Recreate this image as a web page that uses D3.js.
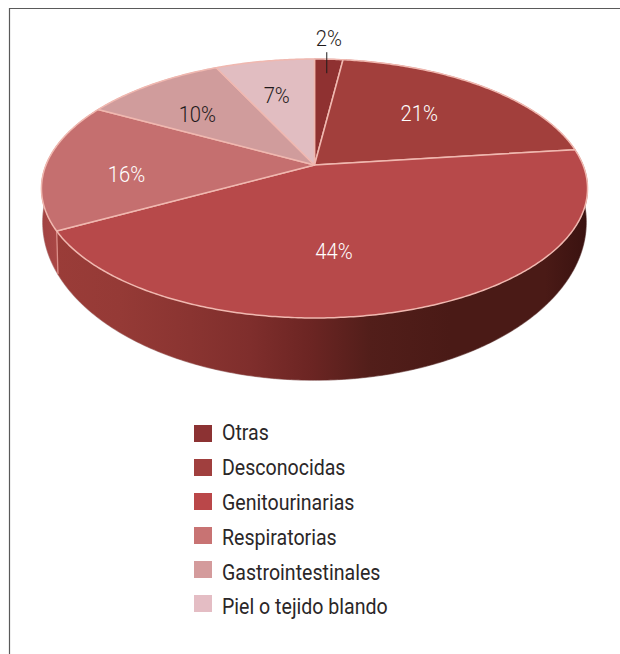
<!DOCTYPE html>
<html lang="es">
<head>
<meta charset="utf-8">
<title>Origen de la infección</title>
<script src="https://cdnjs.cloudflare.com/ajax/libs/d3/7.8.5/d3.min.js"></script>
<style>
  html, body { margin: 0; padding: 0; background: #fff; }
  svg { display: block; }
  text { font-family: "Roboto", sans-serif; font-weight: 300; }
  .caption { font-weight: 400; }
</style>
</head>
<body>
<svg id="chart" width="620" height="654"></svg>
<script>
// Chart data
const categories = ["Otras", "Desconocidas", "Genitourinarias", "Respiratorias", "Gastrointestinales", "Piel o tejido blando"];
const shares = [2, 21, 44, 16, 10, 7];
const topColors = ["#8f3131", "#a23f3c", "#b7494a", "#c56f6f", "#d09c9c", "#e1bdc1"];
const legendColors = ["#8c3233", "#a03f3e", "#ba4749", "#c87373", "#d49b9c", "#e4bdc4"];
const labelColors = ["#1f1a1b", "#ffffff", "#ffffff", "#ffffff", "#1f1a1b", "#1f1a1b"];

// Tilted disc: a unit circle seen in perspective, so the hub sits above the ellipse centre
const hub = { x: 314.5, y: 165 };
const halfWidth = 268.5, halfDepth = 125.2, tilt = 0.1815;
const topDisc = { sx: 1, sy: 1, hubY: hub.y };
const baseDisc = { sx: 0.995, sy: 1.22, hubY: 193.5 };

function project(u, v, disc = topDisc) {
  const w = 1 - tilt * v;
  return [hub.x + disc.sx * halfWidth * u / w, disc.hubY + disc.sy * halfDepth * v / w];
}
const rimPoint = (a, disc) => project(Math.sin(a), -Math.cos(a), disc);

const svg = d3.select("#chart");

// Frame around the figure
svg.append("path")
  .attr("d", "M9.5,654V8.5H620")
  .attr("fill", "none").attr("stroke", "#5a5a5a").attr("stroke-width", 1.2);

const arcs = d3.pie().value(d => d).sort(null)(shares);
const line = d3.line();

function arcSamples(a0, a1, disc) {
  const n = Math.max(2, Math.ceil((a1 - a0) / 0.01));
  return d3.range(n + 1).map(i => rimPoint(a0 + (a1 - a0) * i / n, disc));
}

// Gradients for the visible side wall
const defs = svg.append("defs");
const wallStops = {
  2: [[57, "#9a3c38"], [120, "#953a36"], [190, "#8a3431"], [250, "#7f2e2c"], [310, "#6c2523"], [370, "#521e1a"], [450, "#4a1a16"], [545, "#4a1a16"], [587, "#3a1210"]],
  3: [[40, "#a04242"], [60, "#ab4846"]]
};
Object.entries(wallStops).forEach(([i, stops]) => {
  const g = defs.append("linearGradient").attr("id", "wall" + i)
    .attr("gradientUnits", "userSpaceOnUse")
    .attr("x1", stops[0][0]).attr("x2", stops[stops.length - 1][0]).attr("y1", 0).attr("y2", 0);
  const span = stops[stops.length - 1][0] - stops[0][0];
  stops.forEach(s => g.append("stop")
    .attr("offset", (s[0] - stops[0][0]) / span).attr("stop-color", s[1]));
});

// Faint outline under the base rim
svg.append("path")
  .attr("d", line(arcSamples(0, 2 * Math.PI, baseDisc)) + "Z")
  .attr("fill", "none").attr("stroke", "#d9cfcf").attr("stroke-width", 1.6);

// Side wall of each slice, built from rim samples on the top and base discs
const wallFill = i => wallStops[i] ? `url(#wall${i})` : topColors[i];
const wallOrder = [0, 1, 5, 4, 3, 2];
svg.append("g").selectAll("path").data(wallOrder).join("path")
  .attr("d", i => {
    const a = arcs[i];
    const top = arcSamples(a.startAngle, a.endAngle, topDisc);
    const base = arcSamples(a.startAngle, a.endAngle, baseDisc).reverse();
    return line(top.concat(base)) + "Z";
  })
  .attr("fill", wallFill)
  .attr("stroke", wallFill).attr("stroke-width", 0.6);

// Seam between the respiratory and genitourinary walls
const seam = arcs[2].endAngle;
svg.append("path")
  .attr("d", line([rimPoint(seam, topDisc), rimPoint(seam, baseDisc)]))
  .attr("stroke", "#dc8f8a").attr("stroke-width", 1.3).attr("fill", "none");

// Top face of the disc
svg.append("g").selectAll("path").data(arcs).join("path")
  .attr("d", a => line([[hub.x, hub.y]].concat(arcSamples(a.startAngle, a.endAngle, topDisc))) + "Z")
  .attr("fill", (a, i) => topColors[i])
  .attr("stroke", "#f0b8b0").attr("stroke-width", 1.5).attr("stroke-linejoin", "round");

// Percentage labels: pie-plane radius plus a small hand placement nudge
const labelRadius = [1, 0.6, 0.6, 0.6, 0.6, 0.6];
const labelNudge = [[0, -21], [-1, -2], [-36, 6], [-27, 9], [-15, 0], [-6, -4]];
svg.append("g").selectAll("text").data(arcs).join("text")
  .attr("transform", (a, i) => {
    const m = (a.startAngle + a.endAngle) / 2, r = labelRadius[i];
    const [x, y] = project(r * Math.sin(m), -r * Math.cos(m));
    return `translate(${x + labelNudge[i][0]},${y + labelNudge[i][1]}) scale(0.92,1)`;
  })
  .attr("text-anchor", "middle").attr("dominant-baseline", "central")
  .attr("font-size", 22)
  .attr("fill", (a, i) => labelColors[i])
  .text(a => a.data + "%");

// Leader line for the smallest slice
const leaderAngle = (arcs[0].startAngle + arcs[0].endAngle) / 2;
const leaderTop = rimPoint(leaderAngle);
svg.append("path")
  .attr("d", line([[leaderTop[0] - 2, leaderTop[1] - 7], [leaderTop[0] - 2, leaderTop[1] + 14]]))
  .attr("stroke", "#1f1a1b").attr("stroke-width", 1).attr("fill", "none");

// Legend: swatches and their captions step at slightly different rates
const swatchY = d3.scalePoint().domain(categories).range([433.5, 603.5]);
const captionY = d3.scalePoint().domain(categories).range([433, 607]);
const legend = svg.append("g");
legend.selectAll("rect").data(categories).join("rect")
  .attr("x", 194).attr("y", d => swatchY(d) - 8.5).attr("width", 18).attr("height", 17)
  .attr("fill", (d, i) => legendColors[i]);
legend.selectAll("text").data(categories).join("text")
  .attr("class", "caption")
  .attr("transform", d => `translate(222,${captionY(d)}) scale(0.89,1)`)
  .attr("dominant-baseline", "central")
  .attr("font-size", 22)
  .attr("fill", "#2b2728")
  .text(d => d);
</script>
</body>
</html>
